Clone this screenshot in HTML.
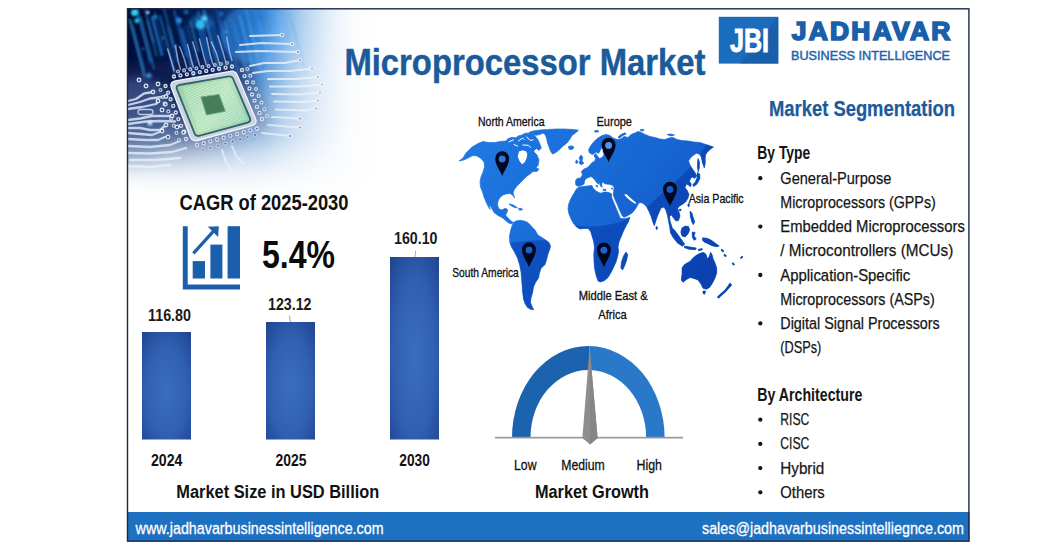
<!DOCTYPE html>
<html><head><meta charset="utf-8"><title>Microprocessor Market</title>
<style>html,body{margin:0;padding:0;background:#fff;}body{width:1064px;height:551px;overflow:hidden;font-family:'Liberation Sans', sans-serif;}svg{display:block}</style>
</head><body>
<svg width="1064" height="551" viewBox="0 0 1064 551" font-family="'Liberation Sans', sans-serif">
<defs>
<linearGradient id="mapg" gradientUnits="userSpaceOnUse" x1="470" y1="130" x2="720" y2="300">
  <stop offset="0" stop-color="#2079e2"/><stop offset="0.5" stop-color="#186ad6"/><stop offset="1" stop-color="#1560cf"/>
</linearGradient>
<linearGradient id="mapdk" gradientUnits="userSpaceOnUse" x1="560" y1="170" x2="720" y2="300">
  <stop offset="0" stop-color="#052c98" stop-opacity="0"/><stop offset="0.35" stop-color="#052c98" stop-opacity="0.06"/><stop offset="1" stop-color="#052c98" stop-opacity="0.4"/>
</linearGradient>
<clipPath id="mapclip"><path d="M459 161 L463 158 L466 153 L472 147 L478 143.5 L483 141.5 L489 142.5 L495 142.5 L500 141.5 L506 141 L508 138.5 L512 137.3 L516 137.8 L518 136 L522 135 L525 133.3 L529 133 L532 134.3 L535 136 L537.5 139 L539.5 143 L541.3 148 L539 150.5 L536.5 148.5 L534 150.5 L534 152 L537 155 L539 160 L538.2 165 L536 168 L539 169 L537 171.5 L533 171.5 L530 174 L527 176 L524 179 L520 183 L517 186 L514 190 L513 193 L514.5 197.8 L512.5 195 L510 193.5 L506 194 L503 195 L500 197.5 L498 201 L497.5 205 L499 209 L502 210 L505 208.3 L507.7 209.5 L507 212.5 L505.5 215 L508 218 L511 221 L513.5 222.5 L511 224 L508 222.5 L505 220 L502 217.5 L498 215.5 L494 212.5 L491.5 208 L489.5 204 L490 209.5 L488 206 L486 202 L484 197 L482.5 192 L480.5 187 L480 182 L481 177 L483 172 L484.5 167 L484 162 L481 158.5 L477 156 L473 155.5 L469 157.5 L465 159.5 L462 160.5 Z M529 132.3 L534 130.8 L540 130 L546 129.5 L544 132.5 L540 134.5 L536 135.3 L532 134.5 Z M541 131.2 L548 129.5 L556 129 L565 129 L573 129.5 L578.5 130.2 L576 132.5 L572 135.5 L570 139 L567 143 L563 146 L559 150 L555.5 152.7 L552.5 154 L550.5 151 L549 147 L547.5 143 L546.5 138 L545 134.5 Z M568.5 146.5 L572 145.8 L574.2 147.5 L572 149.6 L569 149.2 Z M509 204 L512 204.5 L515 206 L517.5 207.8 L514.5 207.5 L511.5 206 Z M518.5 208.5 L521.5 208.3 L522.5 209.8 L519.5 210.3 Z M513.5 222.5 L516 221 L519.5 220.3 L523 220.8 L527 222 L530 224.5 L532.5 227.5 L535 230 L537.5 234.5 L541 237 L545 239.5 L549 242.5 L550.5 246 L549.5 250 L548 254 L546.5 260 L545 264.5 L541 268.5 L539.5 273 L538.5 278 L535.5 282.5 L533.5 287 L532.5 293 L531 298 L530.5 302.5 L532 306.5 L533.8 309.8 L530.5 309.3 L527.5 307.5 L525 303.5 L523.5 299 L522.5 291 L521.8 281 L521 272 L519.8 265.5 L517.5 258 L514.5 252 L511.5 247 L509.7 242 L509.5 236 L510.5 231 L511.8 226.5 Z M574.5 192.5 L576 189.5 L578.5 187.3 L583 186.6 L588 185.9 L592 185.5 L593 188 L595.5 190.5 L598.5 192.5 L601 193.2 L604 192 L608 192.3 L611.5 193.7 L611.5 197 L613.5 202 L616 208 L618.5 214 L620.5 218.5 L625 218.7 L630 217.3 L628.5 221.5 L626 226 L623.5 231 L621 237 L619 242 L618 247 L618.5 252 L617.5 257 L616 262 L613.5 267.5 L611 272.5 L608 277.5 L604.5 280.5 L600.5 282 L598 281 L596 275 L594.5 268 L594 261 L593.8 254 L594.5 247 L593.5 241 L592 236 L590.5 231 L588 228.5 L584 228.5 L580 229 L576.5 227 L573.5 223.5 L571 219 L569 214 L568 209 L568.7 204 L570.5 199.5 L572.5 195.5 Z M626 252 L627.7 254.5 L626.7 260 L624.5 266 L622.5 270 L620.8 268 L621.5 262 L623.5 256 Z M575.8 185 L575.5 181 L577 178.5 L580.5 178 L582.5 175 L581.3 171.5 L584 169 L587.5 167.5 L590 165 L592 162.5 L594.5 161.5 L595.5 158.5 L594 155.5 L595.5 153.5 L597.5 156 L599.5 158.5 L602 157.5 L604 155 L603 151.5 L604.5 148 L607.5 146 L605.5 143.5 L602.5 146 L600.5 150 L598.5 153.5 L596 152 L592.5 154.5 L589.5 153 L588.5 150 L590.5 146 L594 141.5 L598 138 L602 135.5 L606 134.5 L610 135.5 L613 138 L617 139.5 L621 139 L624 136.5 L628 137.5 L631 134.5 L635 133 L638 131.5 L641 132.3 L645 134.5 L650 136.5 L655 137.5 L660 139 L665 139.5 L669 138 L673 137.5 L677 139.5 L682 140.5 L688 141 L694 142 L700 142.5 L706 144.5 L713.5 147 L710 149.5 L707 152.5 L705.5 155 L705.2 158.5 L705.3 163 L704.3 168 L702.5 163 L701.5 158 L700 154.5 L696.5 153.2 L693 155.5 L690 158.5 L688.5 161 L690 165 L692.5 169 L695 172.5 L696.5 176 L694.5 178.5 L692.5 177 L690.5 178.5 L689.5 181.5 L691.3 184 L690.5 187 L688.5 185 L686.5 184 L685 187.5 L687.5 191 L689 194.5 L688 198 L686 201.5 L683 204 L679.5 206 L677.5 208.5 L679 212 L680 216 L678.5 220.5 L676 221 L673.5 218 L671.5 215 L669.5 216.5 L670 221 L671.5 225.5 L673 230 L675 235 L677.5 239.5 L678.5 241.8 L676 240 L673.5 236 L671 231 L669.5 226 L668.5 221 L667.5 215.5 L666 210.5 L664 207 L661 208 L659.5 211.5 L657.5 216 L656 220.5 L654.3 225.8 L652.5 221 L651 216 L649 211.5 L647 207.5 L644 204 L641 202.5 L638.5 203 L637.5 205.5 L635 209.5 L632 213 L628 215.5 L624 217.3 L622.3 216 L620 211 L617.5 205 L615 199.5 L613.2 195 L613.6 191.5 L614.2 187.5 L612.5 185.2 L609 184.3 L606 184 L604 183.3 L602.7 181.8 L601.6 184 L602.2 187.2 L600.6 186.3 L599.6 183.2 L597.6 180.5 L596.2 178.2 L594.8 176.6 L596.6 179.3 L598.6 182.2 L598.8 184.3 L597.2 183.2 L595 180.2 L593 177.8 L591 176.6 L588.5 177.5 L586 178.6 L584.6 181 L584 184 L581.5 185.6 L578.5 186.3 L576.5 185.6 Z M595.8 185.3 L598 185.9 L597 187.3 Z M603 189.2 L606 189.4 L606 190.4 L603 190.3 Z M611 188.3 L612.8 188 L612.5 189.3 Z M579 158 L581 155 L582.8 157 L582 160.5 L583.8 163.5 L581 164.7 L579 163 L580.2 160.5 Z M576.3 160 L578 161.3 L577.2 163.6 L575.5 162.7 Z M618 137 L621 134.5 L625 132.8 L626.3 134 L622.5 135.7 L619.7 138.2 Z M594 131 L597.5 130.2 L599 131.5 L596 132.3 Z M640 129.8 L643.5 129.3 L644 130.6 L641 131 Z M667 134.5 L671 134 L674.5 135 L671 136 Z M698 158.5 L699.5 162 L699.3 168 L698.2 172 L697.4 167 L697.6 162 Z M697.5 172.5 L699.7 174 L700 178 L698.5 181.5 L696.5 184.5 L693.5 186.5 L692.8 184.8 L695.3 182 L697 178 L696.8 175 Z M688.3 203.5 L689.6 204.5 L688.8 207 L687.7 206 Z M679.5 209 L681.3 209.3 L680.5 211 L679.2 210.5 Z M656.3 226.3 L657.7 227.5 L657 229.7 L655.8 228.5 Z M690 211 L692 213 L693 217 L694.7 222 L693.2 224.7 L691.5 221 L690.3 216 Z M682 228 L685 226 L688.5 226.5 L689.7 230 L688 234 L685 237 L682 236 L680.8 232 Z M669.8 227.5 L673.5 229 L677.5 234 L681 239 L684.7 244 L682.5 246.3 L677.5 243 L673.5 238 L670.5 233 Z M684.5 246 L690 247 L696.3 248 L695.5 249.7 L689 249.2 L684.5 247.7 Z M692.3 232 L695.2 232.5 L694 236 L696.3 239 L694 240.3 L692.3 237 Z M698 249.5 L702 248.5 L702.5 249.8 L698.5 250.8 Z M702.8 237.8 L707 238.3 L711 240 L715 243 L719.3 246 L716.5 246.8 L712 245.7 L708 243.7 L704.5 242.2 L702.3 240 Z M682 268 L684.5 264.5 L688 262.5 L690.5 261 L693 258 L696 255.5 L698.5 254 L701.5 252.8 L704 252.5 L706 254.5 L707.5 259 L709.5 256 L710.5 252.3 L712 254.5 L713 258.5 L715 263 L716.7 268 L716.7 273 L715 278 L712.5 283 L709.5 287.5 L706.5 289.2 L703 288.2 L701 284 L698 280 L694 278.5 L690 277.5 L686.5 279.5 L683 282.3 L681.3 280 L682 274 Z M703 291 L705.7 291 L704.6 294.3 L703 293.5 Z M730 283 L731.7 285 L729 288 L726 291.5 L722 295 L718.5 298.3 L717.3 297 L721 293.5 L725 290 L728 286 Z M724.5 254 L726.3 255.5 L725.5 257 L724 255.5 Z M733 262.5 L734.5 264.3 L733.5 265.3 L732.3 263.7 Z M740.5 257.5 L742.3 256 L742.8 257.2 L741 258.7 Z M721.5 249 L724 251 L723 252 L721 250.3 Z"/></clipPath>
<linearGradient id="phbase" gradientUnits="userSpaceOnUse" x1="127" y1="0" x2="380" y2="0">
<stop offset="0" stop-color="#041440"/><stop offset="0.2" stop-color="#07265e"/><stop offset="0.36" stop-color="#0e4290"/>
<stop offset="0.5" stop-color="#2274c8"/><stop offset="0.62" stop-color="#4c96dc"/><stop offset="0.75" stop-color="#8cbce8"/><stop offset="0.88" stop-color="#cfe2f5"/><stop offset="1" stop-color="#ffffff"/>
</linearGradient>
<linearGradient id="phv" gradientUnits="userSpaceOnUse" x1="0" y1="80" x2="0" y2="196">
<stop offset="0" stop-color="#5a7ab0" stop-opacity="0"/><stop offset="0.2" stop-color="#5f7fb4" stop-opacity="0.18"/>
<stop offset="0.42" stop-color="#7f9cc8" stop-opacity="0.42"/><stop offset="0.62" stop-color="#b4c8e2" stop-opacity="0.72"/>
<stop offset="0.82" stop-color="#e4ecf6" stop-opacity="0.94"/><stop offset="1" stop-color="#ffffff" stop-opacity="1"/>
</linearGradient>
<radialGradient id="phdark" gradientUnits="userSpaceOnUse" cx="127" cy="9" r="150">
<stop offset="0" stop-color="#010a2c" stop-opacity="0.95"/><stop offset="0.45" stop-color="#021040" stop-opacity="0.6"/><stop offset="1" stop-color="#021040" stop-opacity="0"/>
</radialGradient>
<linearGradient id="phfadeR" gradientUnits="userSpaceOnUse" x1="262" y1="0" x2="375" y2="0">
<stop offset="0" stop-color="#fff" stop-opacity="0"/><stop offset="0.45" stop-color="#fff" stop-opacity="0.45"/><stop offset="0.8" stop-color="#fff" stop-opacity="0.88"/><stop offset="1" stop-color="#fff" stop-opacity="1"/>
</linearGradient>
<linearGradient id="phfadeB" gradientUnits="userSpaceOnUse" x1="0" y1="140" x2="0" y2="198">
<stop offset="0" stop-color="#fff" stop-opacity="0"/><stop offset="0.5" stop-color="#fff" stop-opacity="0.4"/><stop offset="1" stop-color="#fff" stop-opacity="1"/>
</linearGradient>
<linearGradient id="phfadeD" gradientUnits="userSpaceOnUse" x1="232" y1="50" x2="335" y2="150">
<stop offset="0" stop-color="#cfe0f4" stop-opacity="0"/><stop offset="0.3" stop-color="#cfe0f4" stop-opacity="0.3"/><stop offset="0.6" stop-color="#d6e5f6" stop-opacity="0.62"/><stop offset="1" stop-color="#e6f0fa" stop-opacity="0.9"/>
</linearGradient>
<linearGradient id="chipg" gradientUnits="userSpaceOnUse" x1="180" y1="85" x2="250" y2="130">
<stop offset="0" stop-color="#9ad2a8"/><stop offset="0.5" stop-color="#b6e2ba"/><stop offset="1" stop-color="#8ecfb2"/>
</linearGradient>
<pattern id="hatch" width="2.4" height="2.4" patternUnits="userSpaceOnUse" patternTransform="rotate(-28)"><rect width="2.4" height="1" fill="#e8fbe8" opacity="0.55"/></pattern>
<filter id="b0" x="-20%" y="-20%" width="140%" height="140%"><feGaussianBlur stdDeviation="0.45"/></filter>
<filter id="b05" x="-20%" y="-20%" width="140%" height="140%"><feGaussianBlur stdDeviation="0.7"/></filter>
<filter id="b1" x="-20%" y="-20%" width="140%" height="140%"><feGaussianBlur stdDeviation="0.9"/></filter>
<filter id="b2" x="-50%" y="-50%" width="200%" height="200%"><feGaussianBlur stdDeviation="1.6"/></filter>
<filter id="b3" x="-50%" y="-50%" width="200%" height="200%"><feGaussianBlur stdDeviation="5"/></filter>
<clipPath id="phclip"><rect x="127" y="8" width="253" height="196"/></clipPath>
<radialGradient id="barg" cx="50%" cy="55%" r="75%" fx="50%" fy="55%">
  <stop offset="0" stop-color="#3b6dbf"/><stop offset="0.55" stop-color="#3160b2"/><stop offset="1" stop-color="#1f438f"/>
</radialGradient>
</defs>
<rect width="1064" height="551" fill="#fff"/>
<!-- photo -->
<g clip-path="url(#phclip)">
<g filter="url(#b1)">
<rect x="125" y="6" width="260" height="205" fill="url(#phbase)"/>
<rect x="125" y="6" width="260" height="205" fill="url(#phdark)"/>
<path d="M120 66 L200 58 L246 56 L272 126 L200 158 L120 150 Z" fill="#0c1f54" opacity="0.62" filter="url(#b3)"/>
<path d="M129.9 19.4 L144.9 77.2" stroke="#48b0ff" stroke-opacity="0.58" stroke-width="1.8"/>
<path d="M132.7 25.3 L144.2 69.6" stroke="#1f78e0" stroke-opacity="0.66" stroke-width="1.0"/>
<path d="M136.6 8.2 L150.7 62.5" stroke="#2a8cf0" stroke-opacity="0.70" stroke-width="1.5"/>
<path d="M140.5 16.9 L154.1 69.0" stroke="#48b0ff" stroke-opacity="0.68" stroke-width="0.9"/>
<path d="M144.5 7.4 L153.8 43.1" stroke="#2a8cf0" stroke-opacity="0.47" stroke-width="1.7"/>
<path d="M147.5 20.2 L156.8 56.0" stroke="#3aa2f8" stroke-opacity="0.47" stroke-width="1.4"/>
<path d="M152.1 17.0 L162.1 55.3" stroke="#2a8cf0" stroke-opacity="0.85" stroke-width="1.6"/>
<path d="M154.6 11.5 L164.7 50.2" stroke="#2a8cf0" stroke-opacity="0.39" stroke-width="1.3"/>
<path d="M159.8 15.3 L175.1 74.0" stroke="#2a8cf0" stroke-opacity="0.77" stroke-width="1.1"/>
<path d="M163.7 7.3 L174.4 48.5" stroke="#2f94f0" stroke-opacity="0.70" stroke-width="1.0"/>
<path d="M166.4 24.7 L176.3 62.8" stroke="#3aa2f8" stroke-opacity="0.39" stroke-width="0.9"/>
<path d="M169.3 28.1 L178.2 62.2" stroke="#2a8cf0" stroke-opacity="0.70" stroke-width="1.0"/>
<path d="M174.1 10.3 L186.3 57.0" stroke="#1f78e0" stroke-opacity="0.57" stroke-width="1.9"/>
<path d="M177.6 16.1 L188.4 57.6" stroke="#1f78e0" stroke-opacity="0.55" stroke-width="0.9"/>
<path d="M181.5 29.4 L193.9 77.2" stroke="#2a8cf0" stroke-opacity="0.85" stroke-width="1.1"/>
<path d="M183.7 26.5 L196.5 75.8" stroke="#1f78e0" stroke-opacity="0.40" stroke-width="1.1"/>
<path d="M186.9 24.5 L197.2 64.4" stroke="#2a8cf0" stroke-opacity="0.50" stroke-width="1.0"/>
<path d="M190.3 21.3 L198.2 51.7" stroke="#48b0ff" stroke-opacity="0.53" stroke-width="1.4"/>
<path d="M196.2 17.6 L208.5 64.8" stroke="#1f78e0" stroke-opacity="0.78" stroke-width="1.5"/>
<path d="M197.8 11.5 L210.4 59.8" stroke="#1f78e0" stroke-opacity="0.71" stroke-width="1.6"/>
<path d="M203.3 10.7 L218.5 69.2" stroke="#48b0ff" stroke-opacity="0.79" stroke-width="1.0"/>
<path d="M204.2 8.6 L216.0 54.0" stroke="#2f94f0" stroke-opacity="0.48" stroke-width="1.2"/>
<path d="M210.2 20.3 L220.3 59.1" stroke="#2a8cf0" stroke-opacity="0.44" stroke-width="1.0"/>
<path d="M212.7 21.7 L225.3 70.2" stroke="#1f78e0" stroke-opacity="0.39" stroke-width="1.8"/>
<path d="M215.5 6.4 L225.4 44.5" stroke="#2a8cf0" stroke-opacity="0.57" stroke-width="0.9"/>
<path d="M219.3 18.7 L234.7 77.9" stroke="#1f78e0" stroke-opacity="0.40" stroke-width="1.8"/>
<path d="M225.0 21.8 L238.2 72.5" stroke="#1f78e0" stroke-opacity="0.64" stroke-width="1.5"/>
<path d="M228.5 17.4 L239.1 58.1" stroke="#2a8cf0" stroke-opacity="0.51" stroke-width="0.9"/>
<path d="M231.2 17.6 L244.7 69.5" stroke="#2a8cf0" stroke-opacity="0.51" stroke-width="1.0"/>
<path d="M234.5 23.7 L249.4 80.7" stroke="#1f78e0" stroke-opacity="0.72" stroke-width="1.7"/>
<path d="M239.2 14.4 L252.4 65.0" stroke="#2f94f0" stroke-opacity="0.80" stroke-width="1.8"/>
<path d="M240.2 18.0 L248.1 48.4" stroke="#2f94f0" stroke-opacity="0.68" stroke-width="1.5"/>
<path d="M245.5 7.9 L258.3 57.1" stroke="#2f94f0" stroke-opacity="0.85" stroke-width="1.6"/>
<path d="M248.5 23.6 L260.8 71.1" stroke="#48b0ff" stroke-opacity="0.57" stroke-width="1.0"/>
<path d="M253.2 6.7 L265.6 54.8" stroke="#1f78e0" stroke-opacity="0.59" stroke-width="1.9"/>
<path d="M254.8 24.7 L267.8 74.5" stroke="#2a8cf0" stroke-opacity="0.59" stroke-width="1.3"/>
<path d="M258.5 20.7 L270.4 66.2" stroke="#3aa2f8" stroke-opacity="0.73" stroke-width="1.6"/>
<path d="M263.0 27.4 L273.4 67.2" stroke="#1f78e0" stroke-opacity="0.68" stroke-width="1.5"/>
<path d="M267.7 24.1 L277.1 60.1" stroke="#1f78e0" stroke-opacity="0.46" stroke-width="1.5"/>
<path d="M269.8 9.3 L281.5 54.2" stroke="#2a8cf0" stroke-opacity="0.77" stroke-width="1.6"/>
<path d="M275.4 12.6 L284.5 47.7" stroke="#3aa2f8" stroke-opacity="0.58" stroke-width="1.8"/>
<path d="M278.6 15.2 L290.4 60.8" stroke="#48b0ff" stroke-opacity="0.69" stroke-width="1.4"/>
<path d="M279.9 6.8 L294.5 62.9" stroke="#3aa2f8" stroke-opacity="0.37" stroke-width="1.5"/>
<path d="M284.2 25.0 L292.2 55.6" stroke="#2f94f0" stroke-opacity="0.42" stroke-width="1.1"/>
<path d="M289.2 12.4 L303.1 65.8" stroke="#2a8cf0" stroke-opacity="0.75" stroke-width="1.3"/>
<path d="M292.4 21.7 L306.5 75.9" stroke="#1f78e0" stroke-opacity="0.83" stroke-width="1.1"/>
<ellipse cx="256" cy="34" rx="36" ry="30" fill="#3c96ee" opacity="0.4" filter="url(#b2)"/>
<ellipse cx="202" cy="22" rx="12" ry="8" fill="#2aa0f0" opacity="0.3" filter="url(#b2)"/>
</g>
<rect x="125" y="6" width="260" height="205" fill="url(#phv)"/>
<rect x="125" y="6" width="380" height="210" fill="url(#phfadeD)"/>
<ellipse cx="138" cy="118" rx="36" ry="42" fill="#5f80b6" opacity="0.42" filter="url(#b3)"/>
<g filter="url(#b05)">
<path d="M128.0 101.0 L136.0 99.0 L144.0 93.5 L153.0 92.0" fill="none" stroke="#dde8f6" stroke-opacity="0.85" stroke-width="2.3" stroke-linecap="round" stroke-linejoin="round"/>
<path d="M128.0 105.0 L140.0 102.0 L150.0 98.5 L166.0 96.5" fill="none" stroke="#dde8f6" stroke-opacity="0.85" stroke-width="2.3" stroke-linecap="round" stroke-linejoin="round"/>
<path d="M128.0 109.0 L142.0 107.0 L156.0 104.0 L158.0 101.0" fill="none" stroke="#dde8f6" stroke-opacity="0.85" stroke-width="2.3" stroke-linecap="round" stroke-linejoin="round"/>
<path d="M128.0 120.0 L140.0 118.5 L152.0 116.0 L172.0 116.0" fill="none" stroke="#dde8f6" stroke-opacity="0.85" stroke-width="2.3" stroke-linecap="round" stroke-linejoin="round"/>
<path d="M128.0 124.0 L146.0 121.5 L160.0 121.0 L175.0 121.5" fill="none" stroke="#dde8f6" stroke-opacity="0.85" stroke-width="2.3" stroke-linecap="round" stroke-linejoin="round"/>
<path d="M128.0 128.0 L140.0 128.0 L150.0 130.0 L160.0 130.0 L166.0 125.0" fill="none" stroke="#dde8f6" stroke-opacity="0.85" stroke-width="2.3" stroke-linecap="round" stroke-linejoin="round"/>
<path d="M128.0 133.0 L140.0 134.0 L152.0 135.0 L162.0 131.0" fill="none" stroke="#dde8f6" stroke-opacity="0.85" stroke-width="2.3" stroke-linecap="round" stroke-linejoin="round"/>
<path d="M128.0 139.0 L145.0 140.0 L158.0 140.0 L165.0 137.0" fill="none" stroke="#dde8f6" stroke-opacity="0.85" stroke-width="2.3" stroke-linecap="round" stroke-linejoin="round"/>
<path d="M128.0 146.0 L150.0 147.0 L170.0 145.0 L180.0 141.0" fill="none" stroke="#dde8f6" stroke-opacity="0.85" stroke-width="2.3" stroke-linecap="round" stroke-linejoin="round"/>
<path d="M128.0 153.0 L150.0 153.5 L172.0 152.0 L186.0 148.0" fill="none" stroke="#dde8f6" stroke-opacity="0.85" stroke-width="2.3" stroke-linecap="round" stroke-linejoin="round"/>
<path d="M130.0 160.0 L156.0 160.0 L180.0 158.0" fill="none" stroke="#dde8f6" stroke-opacity="0.85" stroke-width="2.3" stroke-linecap="round" stroke-linejoin="round"/>
<path d="M128.0 166.0 L150.0 167.0 L170.0 165.0" fill="none" stroke="#dde8f6" stroke-opacity="0.85" stroke-width="2.3" stroke-linecap="round" stroke-linejoin="round"/>
<rect x="138" y="109.5" width="15" height="5" rx="2.5" fill="none" stroke="#dde8f6" stroke-opacity="0.8" stroke-width="1.3"/>
<circle cx="153.0" cy="92.0" r="1.8" fill="#14306a" fill-opacity="0.7" stroke="#e8f0fa" stroke-opacity="0.9" stroke-width="1.35"/>
<circle cx="166.0" cy="96.5" r="1.8" fill="#14306a" fill-opacity="0.7" stroke="#e8f0fa" stroke-opacity="0.9" stroke-width="1.35"/>
<circle cx="158.0" cy="101.0" r="1.8" fill="#14306a" fill-opacity="0.7" stroke="#e8f0fa" stroke-opacity="0.9" stroke-width="1.35"/>
<circle cx="162.0" cy="110.0" r="1.8" fill="#14306a" fill-opacity="0.7" stroke="#e8f0fa" stroke-opacity="0.9" stroke-width="1.35"/>
<circle cx="165.0" cy="104.0" r="1.8" fill="#14306a" fill-opacity="0.7" stroke="#e8f0fa" stroke-opacity="0.9" stroke-width="1.35"/>
<circle cx="172.0" cy="116.0" r="1.8" fill="#14306a" fill-opacity="0.7" stroke="#e8f0fa" stroke-opacity="0.9" stroke-width="1.35"/>
<circle cx="177.0" cy="127.0" r="1.8" fill="#14306a" fill-opacity="0.7" stroke="#e8f0fa" stroke-opacity="0.9" stroke-width="1.35"/>
<circle cx="184.0" cy="132.0" r="1.8" fill="#14306a" fill-opacity="0.7" stroke="#e8f0fa" stroke-opacity="0.9" stroke-width="1.35"/>
<circle cx="166.0" cy="125.0" r="1.8" fill="#14306a" fill-opacity="0.7" stroke="#e8f0fa" stroke-opacity="0.9" stroke-width="1.35"/>
<circle cx="162.0" cy="131.0" r="1.8" fill="#14306a" fill-opacity="0.7" stroke="#e8f0fa" stroke-opacity="0.9" stroke-width="1.35"/>
<circle cx="168.0" cy="137.0" r="1.8" fill="#14306a" fill-opacity="0.7" stroke="#e8f0fa" stroke-opacity="0.9" stroke-width="1.35"/>
<circle cx="146.0" cy="86.0" r="1.8" fill="#14306a" fill-opacity="0.7" stroke="#e8f0fa" stroke-opacity="0.9" stroke-width="1.35"/>
<circle cx="139.0" cy="80.0" r="1.8" fill="#14306a" fill-opacity="0.7" stroke="#e8f0fa" stroke-opacity="0.9" stroke-width="1.35"/>
<circle cx="158.0" cy="84.0" r="1.8" fill="#14306a" fill-opacity="0.7" stroke="#e8f0fa" stroke-opacity="0.9" stroke-width="1.35"/>
<circle cx="174.0" cy="76.5" r="1.5" fill="#14306a" fill-opacity="0.7" stroke="#e8f0fa" stroke-opacity="0.9" stroke-width="1.35"/>
<circle cx="180.4" cy="75.4" r="1.5" fill="#14306a" fill-opacity="0.7" stroke="#e8f0fa" stroke-opacity="0.9" stroke-width="1.35"/>
<circle cx="186.9" cy="74.3" r="1.5" fill="#14306a" fill-opacity="0.7" stroke="#e8f0fa" stroke-opacity="0.9" stroke-width="1.35"/>
<circle cx="193.3" cy="73.2" r="1.5" fill="#14306a" fill-opacity="0.7" stroke="#e8f0fa" stroke-opacity="0.9" stroke-width="1.35"/>
<circle cx="199.8" cy="72.1" r="1.5" fill="#14306a" fill-opacity="0.7" stroke="#e8f0fa" stroke-opacity="0.9" stroke-width="1.35"/>
<circle cx="206.2" cy="70.9" r="1.5" fill="#14306a" fill-opacity="0.7" stroke="#e8f0fa" stroke-opacity="0.9" stroke-width="1.35"/>
<circle cx="212.7" cy="69.8" r="1.5" fill="#14306a" fill-opacity="0.7" stroke="#e8f0fa" stroke-opacity="0.9" stroke-width="1.35"/>
<circle cx="219.1" cy="68.7" r="1.5" fill="#14306a" fill-opacity="0.7" stroke="#e8f0fa" stroke-opacity="0.9" stroke-width="1.35"/>
<circle cx="225.6" cy="67.6" r="1.5" fill="#14306a" fill-opacity="0.7" stroke="#e8f0fa" stroke-opacity="0.9" stroke-width="1.35"/>
<circle cx="232.0" cy="66.5" r="1.5" fill="#14306a" fill-opacity="0.7" stroke="#e8f0fa" stroke-opacity="0.9" stroke-width="1.35"/>
<circle cx="178.0" cy="71.5" r="1.4" fill="#14306a" fill-opacity="0.7" stroke="#e8f0fa" stroke-opacity="0.75" stroke-width="1.35"/>
<circle cx="184.1" cy="70.4" r="1.4" fill="#14306a" fill-opacity="0.7" stroke="#e8f0fa" stroke-opacity="0.75" stroke-width="1.35"/>
<circle cx="190.2" cy="69.4" r="1.4" fill="#14306a" fill-opacity="0.7" stroke="#e8f0fa" stroke-opacity="0.75" stroke-width="1.35"/>
<circle cx="196.4" cy="68.3" r="1.4" fill="#14306a" fill-opacity="0.7" stroke="#e8f0fa" stroke-opacity="0.75" stroke-width="1.35"/>
<circle cx="202.5" cy="67.2" r="1.4" fill="#14306a" fill-opacity="0.7" stroke="#e8f0fa" stroke-opacity="0.75" stroke-width="1.35"/>
<circle cx="208.6" cy="66.2" r="1.4" fill="#14306a" fill-opacity="0.7" stroke="#e8f0fa" stroke-opacity="0.75" stroke-width="1.35"/>
<circle cx="214.8" cy="65.1" r="1.4" fill="#14306a" fill-opacity="0.7" stroke="#e8f0fa" stroke-opacity="0.75" stroke-width="1.35"/>
<circle cx="220.9" cy="64.1" r="1.4" fill="#14306a" fill-opacity="0.7" stroke="#e8f0fa" stroke-opacity="0.75" stroke-width="1.35"/>
<circle cx="227.0" cy="63.0" r="1.4" fill="#14306a" fill-opacity="0.7" stroke="#e8f0fa" stroke-opacity="0.75" stroke-width="1.35"/>
<circle cx="165.5" cy="86.0" r="1.5" fill="#14306a" fill-opacity="0.7" stroke="#e8f0fa" stroke-opacity="0.9" stroke-width="1.35"/>
<circle cx="168.1" cy="92.6" r="1.5" fill="#14306a" fill-opacity="0.7" stroke="#e8f0fa" stroke-opacity="0.9" stroke-width="1.35"/>
<circle cx="170.6" cy="99.2" r="1.5" fill="#14306a" fill-opacity="0.7" stroke="#e8f0fa" stroke-opacity="0.9" stroke-width="1.35"/>
<circle cx="173.2" cy="105.9" r="1.5" fill="#14306a" fill-opacity="0.7" stroke="#e8f0fa" stroke-opacity="0.9" stroke-width="1.35"/>
<circle cx="175.8" cy="112.5" r="1.5" fill="#14306a" fill-opacity="0.7" stroke="#e8f0fa" stroke-opacity="0.9" stroke-width="1.35"/>
<circle cx="178.3" cy="119.1" r="1.5" fill="#14306a" fill-opacity="0.7" stroke="#e8f0fa" stroke-opacity="0.9" stroke-width="1.35"/>
<circle cx="180.9" cy="125.8" r="1.5" fill="#14306a" fill-opacity="0.7" stroke="#e8f0fa" stroke-opacity="0.9" stroke-width="1.35"/>
<circle cx="183.4" cy="132.4" r="1.5" fill="#14306a" fill-opacity="0.7" stroke="#e8f0fa" stroke-opacity="0.9" stroke-width="1.35"/>
<circle cx="186.0" cy="139.0" r="1.5" fill="#14306a" fill-opacity="0.7" stroke="#e8f0fa" stroke-opacity="0.9" stroke-width="1.35"/>
<circle cx="160.5" cy="90.0" r="1.4" fill="#14306a" fill-opacity="0.7" stroke="#e8f0fa" stroke-opacity="0.75" stroke-width="1.35"/>
<circle cx="163.1" cy="97.1" r="1.4" fill="#14306a" fill-opacity="0.7" stroke="#e8f0fa" stroke-opacity="0.75" stroke-width="1.35"/>
<circle cx="165.8" cy="104.3" r="1.4" fill="#14306a" fill-opacity="0.7" stroke="#e8f0fa" stroke-opacity="0.75" stroke-width="1.35"/>
<circle cx="168.4" cy="111.4" r="1.4" fill="#14306a" fill-opacity="0.7" stroke="#e8f0fa" stroke-opacity="0.75" stroke-width="1.35"/>
<circle cx="171.1" cy="118.6" r="1.4" fill="#14306a" fill-opacity="0.7" stroke="#e8f0fa" stroke-opacity="0.75" stroke-width="1.35"/>
<circle cx="173.7" cy="125.7" r="1.4" fill="#14306a" fill-opacity="0.7" stroke="#e8f0fa" stroke-opacity="0.75" stroke-width="1.35"/>
<circle cx="176.4" cy="132.9" r="1.4" fill="#14306a" fill-opacity="0.7" stroke="#e8f0fa" stroke-opacity="0.75" stroke-width="1.35"/>
<circle cx="179.0" cy="140.0" r="1.4" fill="#14306a" fill-opacity="0.7" stroke="#e8f0fa" stroke-opacity="0.75" stroke-width="1.35"/>
<circle cx="197.0" cy="145.0" r="1.5" fill="#14306a" fill-opacity="0.7" stroke="#e8f0fa" stroke-opacity="0.8" stroke-width="1.35"/>
<circle cx="203.7" cy="143.2" r="1.5" fill="#14306a" fill-opacity="0.7" stroke="#e8f0fa" stroke-opacity="0.8" stroke-width="1.35"/>
<circle cx="210.3" cy="141.3" r="1.5" fill="#14306a" fill-opacity="0.7" stroke="#e8f0fa" stroke-opacity="0.8" stroke-width="1.35"/>
<circle cx="217.0" cy="139.5" r="1.5" fill="#14306a" fill-opacity="0.7" stroke="#e8f0fa" stroke-opacity="0.8" stroke-width="1.35"/>
<circle cx="223.7" cy="137.7" r="1.5" fill="#14306a" fill-opacity="0.7" stroke="#e8f0fa" stroke-opacity="0.8" stroke-width="1.35"/>
<circle cx="230.3" cy="135.8" r="1.5" fill="#14306a" fill-opacity="0.7" stroke="#e8f0fa" stroke-opacity="0.8" stroke-width="1.35"/>
<circle cx="237.0" cy="134.0" r="1.5" fill="#14306a" fill-opacity="0.7" stroke="#e8f0fa" stroke-opacity="0.8" stroke-width="1.35"/>
<circle cx="243.7" cy="132.2" r="1.5" fill="#14306a" fill-opacity="0.7" stroke="#e8f0fa" stroke-opacity="0.8" stroke-width="1.35"/>
<circle cx="250.3" cy="130.3" r="1.5" fill="#14306a" fill-opacity="0.7" stroke="#e8f0fa" stroke-opacity="0.8" stroke-width="1.35"/>
<circle cx="257.0" cy="128.5" r="1.5" fill="#14306a" fill-opacity="0.7" stroke="#e8f0fa" stroke-opacity="0.8" stroke-width="1.35"/>
<circle cx="203.0" cy="150.0" r="1.4" fill="#14306a" fill-opacity="0.7" stroke="#e8f0fa" stroke-opacity="0.55" stroke-width="1.35"/>
<circle cx="210.4" cy="147.9" r="1.4" fill="#14306a" fill-opacity="0.7" stroke="#e8f0fa" stroke-opacity="0.55" stroke-width="1.35"/>
<circle cx="217.9" cy="145.7" r="1.4" fill="#14306a" fill-opacity="0.7" stroke="#e8f0fa" stroke-opacity="0.55" stroke-width="1.35"/>
<circle cx="225.3" cy="143.6" r="1.4" fill="#14306a" fill-opacity="0.7" stroke="#e8f0fa" stroke-opacity="0.55" stroke-width="1.35"/>
<circle cx="232.7" cy="141.4" r="1.4" fill="#14306a" fill-opacity="0.7" stroke="#e8f0fa" stroke-opacity="0.55" stroke-width="1.35"/>
<circle cx="240.1" cy="139.3" r="1.4" fill="#14306a" fill-opacity="0.7" stroke="#e8f0fa" stroke-opacity="0.55" stroke-width="1.35"/>
<circle cx="247.6" cy="137.1" r="1.4" fill="#14306a" fill-opacity="0.7" stroke="#e8f0fa" stroke-opacity="0.55" stroke-width="1.35"/>
<circle cx="255.0" cy="135.0" r="1.4" fill="#14306a" fill-opacity="0.7" stroke="#e8f0fa" stroke-opacity="0.55" stroke-width="1.35"/>
<circle cx="242.0" cy="70.0" r="1.5" fill="#14306a" fill-opacity="0.7" stroke="#e8f0fa" stroke-opacity="0.9" stroke-width="1.35"/>
<circle cx="244.5" cy="76.1" r="1.5" fill="#14306a" fill-opacity="0.7" stroke="#e8f0fa" stroke-opacity="0.9" stroke-width="1.35"/>
<circle cx="247.0" cy="82.2" r="1.5" fill="#14306a" fill-opacity="0.7" stroke="#e8f0fa" stroke-opacity="0.9" stroke-width="1.35"/>
<circle cx="249.5" cy="88.4" r="1.5" fill="#14306a" fill-opacity="0.7" stroke="#e8f0fa" stroke-opacity="0.9" stroke-width="1.35"/>
<circle cx="252.0" cy="94.5" r="1.5" fill="#14306a" fill-opacity="0.7" stroke="#e8f0fa" stroke-opacity="0.9" stroke-width="1.35"/>
<circle cx="254.5" cy="100.6" r="1.5" fill="#14306a" fill-opacity="0.7" stroke="#e8f0fa" stroke-opacity="0.9" stroke-width="1.35"/>
<circle cx="257.0" cy="106.8" r="1.5" fill="#14306a" fill-opacity="0.7" stroke="#e8f0fa" stroke-opacity="0.9" stroke-width="1.35"/>
<circle cx="259.5" cy="112.9" r="1.5" fill="#14306a" fill-opacity="0.7" stroke="#e8f0fa" stroke-opacity="0.9" stroke-width="1.35"/>
<circle cx="262.0" cy="119.0" r="1.5" fill="#14306a" fill-opacity="0.7" stroke="#e8f0fa" stroke-opacity="0.9" stroke-width="1.35"/>
<circle cx="247.5" cy="69.0" r="1.4" fill="#14306a" fill-opacity="0.7" stroke="#e8f0fa" stroke-opacity="0.8" stroke-width="1.35"/>
<circle cx="250.3" cy="75.7" r="1.4" fill="#14306a" fill-opacity="0.7" stroke="#e8f0fa" stroke-opacity="0.8" stroke-width="1.35"/>
<circle cx="253.1" cy="82.4" r="1.4" fill="#14306a" fill-opacity="0.7" stroke="#e8f0fa" stroke-opacity="0.8" stroke-width="1.35"/>
<circle cx="255.9" cy="89.1" r="1.4" fill="#14306a" fill-opacity="0.7" stroke="#e8f0fa" stroke-opacity="0.8" stroke-width="1.35"/>
<circle cx="258.6" cy="95.9" r="1.4" fill="#14306a" fill-opacity="0.7" stroke="#e8f0fa" stroke-opacity="0.8" stroke-width="1.35"/>
<circle cx="261.4" cy="102.6" r="1.4" fill="#14306a" fill-opacity="0.7" stroke="#e8f0fa" stroke-opacity="0.8" stroke-width="1.35"/>
<circle cx="264.2" cy="109.3" r="1.4" fill="#14306a" fill-opacity="0.7" stroke="#e8f0fa" stroke-opacity="0.8" stroke-width="1.35"/>
<circle cx="267.0" cy="116.0" r="1.4" fill="#14306a" fill-opacity="0.7" stroke="#e8f0fa" stroke-opacity="0.8" stroke-width="1.35"/>
<path d="M174.0 70.5 L171.5 61.5 L167.6 49.1" fill="none" stroke="#dde8f6" stroke-opacity="0.6" stroke-width="1.5" stroke-linecap="round" stroke-linejoin="round"/>
<path d="M180.4 69.4 L177.9 60.4 L175.4 45.6" fill="none" stroke="#dde8f6" stroke-opacity="0.6" stroke-width="1.5" stroke-linecap="round" stroke-linejoin="round"/>
<path d="M186.9 68.3 L184.4 59.3 L179.7 46.8" fill="none" stroke="#dde8f6" stroke-opacity="0.6" stroke-width="1.5" stroke-linecap="round" stroke-linejoin="round"/>
<path d="M193.3 67.2 L190.8 58.2 L187.5 44.4" fill="none" stroke="#dde8f6" stroke-opacity="0.6" stroke-width="1.5" stroke-linecap="round" stroke-linejoin="round"/>
<path d="M199.8 66.1 L197.3 57.1 L192.7 41.9" fill="none" stroke="#dde8f6" stroke-opacity="0.6" stroke-width="1.5" stroke-linecap="round" stroke-linejoin="round"/>
<path d="M206.2 64.9 L203.7 55.9 L199.4 38.9" fill="none" stroke="#dde8f6" stroke-opacity="0.6" stroke-width="1.5" stroke-linecap="round" stroke-linejoin="round"/>
<path d="M212.7 63.8 L210.2 54.8 L206.5 37.5" fill="none" stroke="#dde8f6" stroke-opacity="0.6" stroke-width="1.5" stroke-linecap="round" stroke-linejoin="round"/>
<path d="M219.1 62.7 L216.6 53.7 L211.4 42.0" fill="none" stroke="#dde8f6" stroke-opacity="0.6" stroke-width="1.5" stroke-linecap="round" stroke-linejoin="round"/>
<path d="M225.6 61.6 L223.1 52.6 L217.8 35.8" fill="none" stroke="#dde8f6" stroke-opacity="0.6" stroke-width="1.5" stroke-linecap="round" stroke-linejoin="round"/>
<path d="M232.0 60.5 L229.5 51.5 L226.6 36.9" fill="none" stroke="#dde8f6" stroke-opacity="0.6" stroke-width="1.5" stroke-linecap="round" stroke-linejoin="round"/>
<path d="M250.0 66.0 L264.0 63.0 L285.0 63.0 L300.0 60.0" fill="none" stroke="#dde8f6" stroke-opacity="0.9" stroke-width="2.0" stroke-linecap="round" stroke-linejoin="round"/>
<path d="M253.0 73.0 L268.0 71.0 L290.0 71.0 L312.0 68.5" fill="none" stroke="#dde8f6" stroke-opacity="0.9" stroke-width="2.0" stroke-linecap="round" stroke-linejoin="round"/>
<path d="M268.0 79.0 L296.0 79.0 L318.0 77.0" fill="none" stroke="#dde8f6" stroke-opacity="0.9" stroke-width="2.0" stroke-linecap="round" stroke-linejoin="round"/>
<path d="M270.0 86.5 L300.0 86.5 L322.0 84.5" fill="none" stroke="#dde8f6" stroke-opacity="0.9" stroke-width="2.0" stroke-linecap="round" stroke-linejoin="round"/>
<path d="M272.0 94.0 L300.0 94.5 L320.0 92.5" fill="none" stroke="#dde8f6" stroke-opacity="0.9" stroke-width="2.0" stroke-linecap="round" stroke-linejoin="round"/>
<path d="M274.0 101.5 L305.0 102.0 L318.0 100.5" fill="none" stroke="#dde8f6" stroke-opacity="0.9" stroke-width="2.0" stroke-linecap="round" stroke-linejoin="round"/>
<path d="M276.0 109.5 L306.0 110.5 L316.0 108.5" fill="none" stroke="#dde8f6" stroke-opacity="0.9" stroke-width="2.0" stroke-linecap="round" stroke-linejoin="round"/>
<path d="M272.0 117.0 L300.0 118.5" fill="none" stroke="#dde8f6" stroke-opacity="0.9" stroke-width="2.0" stroke-linecap="round" stroke-linejoin="round"/>
<path d="M268.0 125.0 L300.0 127.5" fill="none" stroke="#dde8f6" stroke-opacity="0.9" stroke-width="2.0" stroke-linecap="round" stroke-linejoin="round"/>
<path d="M240.0 45.0 L262.0 43.0 L292.0 44.0" fill="none" stroke="#dde8f6" stroke-opacity="0.9" stroke-width="2.0" stroke-linecap="round" stroke-linejoin="round"/>
<path d="M236.0 52.0 L260.0 51.0 L298.0 52.0" fill="none" stroke="#dde8f6" stroke-opacity="0.9" stroke-width="2.0" stroke-linecap="round" stroke-linejoin="round"/>
<path d="M250.0 36.0 L282.0 35.0" fill="none" stroke="#dde8f6" stroke-opacity="0.9" stroke-width="2.0" stroke-linecap="round" stroke-linejoin="round"/>
<path d="M232.0 146.0 L236.0 156.0 L244.0 164.0" fill="none" stroke="#dde8f6" stroke-opacity="0.9" stroke-width="2.0" stroke-linecap="round" stroke-linejoin="round"/>
<path d="M222.0 150.0 L226.0 162.0 L232.0 171.0" fill="none" stroke="#dde8f6" stroke-opacity="0.9" stroke-width="2.0" stroke-linecap="round" stroke-linejoin="round"/>
<path d="M262.0 133.0 L290.0 136.0" fill="none" stroke="#dde8f6" stroke-opacity="0.9" stroke-width="2.0" stroke-linecap="round" stroke-linejoin="round"/>
<circle cx="300.0" cy="60.0" r="1.6" fill="#14306a" fill-opacity="0.7" stroke="#e8f0fa" stroke-opacity="0.8" stroke-width="1.35"/>
<circle cx="312.0" cy="68.5" r="1.6" fill="#14306a" fill-opacity="0.7" stroke="#e8f0fa" stroke-opacity="0.8" stroke-width="1.35"/>
<circle cx="318.0" cy="77.0" r="1.6" fill="#14306a" fill-opacity="0.7" stroke="#e8f0fa" stroke-opacity="0.8" stroke-width="1.35"/>
<circle cx="322.0" cy="84.5" r="1.6" fill="#14306a" fill-opacity="0.7" stroke="#e8f0fa" stroke-opacity="0.8" stroke-width="1.35"/>
<circle cx="320.0" cy="92.5" r="1.6" fill="#14306a" fill-opacity="0.7" stroke="#e8f0fa" stroke-opacity="0.8" stroke-width="1.35"/>
<circle cx="318.0" cy="100.5" r="1.6" fill="#14306a" fill-opacity="0.7" stroke="#e8f0fa" stroke-opacity="0.8" stroke-width="1.35"/>
<circle cx="316.0" cy="108.5" r="1.6" fill="#14306a" fill-opacity="0.7" stroke="#e8f0fa" stroke-opacity="0.8" stroke-width="1.35"/>
<circle cx="300.0" cy="118.5" r="1.6" fill="#14306a" fill-opacity="0.7" stroke="#e8f0fa" stroke-opacity="0.8" stroke-width="1.35"/>
<circle cx="300.0" cy="127.5" r="1.6" fill="#14306a" fill-opacity="0.7" stroke="#e8f0fa" stroke-opacity="0.8" stroke-width="1.35"/>
<circle cx="292.0" cy="44.0" r="1.6" fill="#14306a" fill-opacity="0.7" stroke="#e8f0fa" stroke-opacity="0.8" stroke-width="1.35"/>
<circle cx="298.0" cy="52.0" r="1.6" fill="#14306a" fill-opacity="0.7" stroke="#e8f0fa" stroke-opacity="0.8" stroke-width="1.35"/>
<circle cx="282.0" cy="35.0" r="1.6" fill="#14306a" fill-opacity="0.7" stroke="#e8f0fa" stroke-opacity="0.8" stroke-width="1.35"/>
<circle cx="290.0" cy="136.0" r="1.6" fill="#14306a" fill-opacity="0.7" stroke="#e8f0fa" stroke-opacity="0.8" stroke-width="1.35"/>
</g>
<circle cx="134.6" cy="12.5" r="3.6" fill="#35d4f4" opacity="0.95" filter="url(#b1)"/>
<circle cx="137" cy="20.6" r="2.6" fill="#2fc6ee" opacity="0.9" filter="url(#b1)"/>
<circle cx="147.8" cy="12.5" r="1.8" fill="#bfeeff" opacity="0.95" filter="url(#b1)"/>
<circle cx="155" cy="17" r="2.5" fill="#1f8fe0" opacity="0.7" filter="url(#b1)"/>
<circle cx="179" cy="20.6" r="3" fill="#2aa0ea" opacity="0.8" filter="url(#b1)"/>
<circle cx="200.4" cy="24.5" r="4.6" fill="#38c4f2" opacity="0.9" filter="url(#b1)"/>
<circle cx="204.2" cy="18.5" r="3" fill="#5fd6f8" opacity="0.85" filter="url(#b1)"/>
<circle cx="186" cy="12" r="2.5" fill="#2288e0" opacity="0.6" filter="url(#b1)"/>
<circle cx="221" cy="14" r="2.5" fill="#2b8ae0" opacity="0.55" filter="url(#b1)"/>
<circle cx="150" cy="123" r="2.4" fill="#d8f2ff" opacity="0.95" filter="url(#b1)"/>
<circle cx="149" cy="75.5" r="2.6" fill="#39b4f0" opacity="0.75" filter="url(#b1)"/>
<circle cx="163" cy="38" r="1.5" fill="#3aa0f0" opacity="0.6" filter="url(#b1)"/>
<circle cx="176" cy="46" r="1.5" fill="#3aa0f0" opacity="0.6" filter="url(#b1)"/>
<circle cx="143" cy="49" r="1.5" fill="#3aa0f0" opacity="0.5" filter="url(#b1)"/>
<circle cx="226" cy="32" r="1.8" fill="#5ab4f4" opacity="0.55" filter="url(#b1)"/>
<g filter="url(#b0)">
<path d="M175.4 80.8 L230.5 71.3 Q235.6 70.6 237.4 75.3 L255.6 119 Q257.5 123.8 252.5 125.4 L197.1 140.5 Q192.1 141.6 190.3 137 L171.2 87.2 Q169.8 81.9 175.4 80.8 Z" fill="#c9d4e0" stroke="#f2f6fa" stroke-width="1.3"/>
<path d="M179.2 85 L228.6 76.4 Q232 76 233.2 79 L250 118.4 Q251 121.6 247.8 122.6 L199 135.8 Q195.8 136.5 194.6 133.5 L176.8 88.8 Q176 85.7 179.2 85 Z" fill="url(#chipg)" stroke="#34626f" stroke-width="1.9"/>
<path d="M182 87.6 L227.6 79.6 L246.6 119.6 L199.5 132.4 Z" fill="url(#hatch)"/>
<path d="M200.9 97 L219 94.4 L225.3 111.3 L206.5 115 Z" fill="#457e58" stroke="#6aa882" stroke-width="0.9"/>
</g>
<rect x="125" y="6" width="380" height="210" fill="url(#phfadeR)"/>
<rect x="125" y="6" width="380" height="210" fill="url(#phfadeB)"/>
</g>
<!-- footer -->
<rect x="127" y="512" width="842.6" height="29.6" fill="#1e70c1"/>
<!-- frame -->
<rect x="127.5" y="8.8" width="841.4" height="532.3" fill="none" stroke="#1c2a4a" stroke-width="1.4"/>
<!-- bars -->
<rect x="142" y="332" width="49" height="107.5" fill="url(#barg)"/>
<rect x="266" y="322" width="49" height="117.5" fill="url(#barg)"/>
<rect x="390" y="257" width="49" height="182.5" fill="url(#barg)"/>
<path d="M289.3 315.5 L290.5 322 M415.8 250.8 L414.8 257" stroke="#a8a8a8" stroke-width="1" fill="none"/>
<!-- cagr icon -->
<g fill="#1b5eab">
<path d="M182.8 226.2 H187.7 V284.5 H240 V289.4 H182.8 Z"/>
<rect x="192.7" y="261.1" width="12.3" height="17.4"/>
<rect x="210.4" y="244.6" width="12" height="33.9"/>
<rect x="227.6" y="226.2" width="12.4" height="52.3"/>
<path d="M193.4 253.4 L214 230.6" stroke="#1b5eab" stroke-width="3.1" fill="none"/>
<path d="M207.8 226.8 L218.8 226.2 L218.1 237.1 Z"/>
</g>

<!-- logo -->
<rect x="718.8" y="16.8" width="59.5" height="46.8" fill="#1c6cbd"/>
<path d="M778.3 16.8 V63.6 H740 Z" fill="#185ca6" opacity="0.75"/>

<!-- map -->
<g>
<path d="M459 161 L463 158 L466 153 L472 147 L478 143.5 L483 141.5 L489 142.5 L495 142.5 L500 141.5 L506 141 L508 138.5 L512 137.3 L516 137.8 L518 136 L522 135 L525 133.3 L529 133 L532 134.3 L535 136 L537.5 139 L539.5 143 L541.3 148 L539 150.5 L536.5 148.5 L534 150.5 L534 152 L537 155 L539 160 L538.2 165 L536 168 L539 169 L537 171.5 L533 171.5 L530 174 L527 176 L524 179 L520 183 L517 186 L514 190 L513 193 L514.5 197.8 L512.5 195 L510 193.5 L506 194 L503 195 L500 197.5 L498 201 L497.5 205 L499 209 L502 210 L505 208.3 L507.7 209.5 L507 212.5 L505.5 215 L508 218 L511 221 L513.5 222.5 L511 224 L508 222.5 L505 220 L502 217.5 L498 215.5 L494 212.5 L491.5 208 L489.5 204 L490 209.5 L488 206 L486 202 L484 197 L482.5 192 L480.5 187 L480 182 L481 177 L483 172 L484.5 167 L484 162 L481 158.5 L477 156 L473 155.5 L469 157.5 L465 159.5 L462 160.5 Z M529 132.3 L534 130.8 L540 130 L546 129.5 L544 132.5 L540 134.5 L536 135.3 L532 134.5 Z M541 131.2 L548 129.5 L556 129 L565 129 L573 129.5 L578.5 130.2 L576 132.5 L572 135.5 L570 139 L567 143 L563 146 L559 150 L555.5 152.7 L552.5 154 L550.5 151 L549 147 L547.5 143 L546.5 138 L545 134.5 Z M568.5 146.5 L572 145.8 L574.2 147.5 L572 149.6 L569 149.2 Z M509 204 L512 204.5 L515 206 L517.5 207.8 L514.5 207.5 L511.5 206 Z M518.5 208.5 L521.5 208.3 L522.5 209.8 L519.5 210.3 Z M513.5 222.5 L516 221 L519.5 220.3 L523 220.8 L527 222 L530 224.5 L532.5 227.5 L535 230 L537.5 234.5 L541 237 L545 239.5 L549 242.5 L550.5 246 L549.5 250 L548 254 L546.5 260 L545 264.5 L541 268.5 L539.5 273 L538.5 278 L535.5 282.5 L533.5 287 L532.5 293 L531 298 L530.5 302.5 L532 306.5 L533.8 309.8 L530.5 309.3 L527.5 307.5 L525 303.5 L523.5 299 L522.5 291 L521.8 281 L521 272 L519.8 265.5 L517.5 258 L514.5 252 L511.5 247 L509.7 242 L509.5 236 L510.5 231 L511.8 226.5 Z M574.5 192.5 L576 189.5 L578.5 187.3 L583 186.6 L588 185.9 L592 185.5 L593 188 L595.5 190.5 L598.5 192.5 L601 193.2 L604 192 L608 192.3 L611.5 193.7 L611.5 197 L613.5 202 L616 208 L618.5 214 L620.5 218.5 L625 218.7 L630 217.3 L628.5 221.5 L626 226 L623.5 231 L621 237 L619 242 L618 247 L618.5 252 L617.5 257 L616 262 L613.5 267.5 L611 272.5 L608 277.5 L604.5 280.5 L600.5 282 L598 281 L596 275 L594.5 268 L594 261 L593.8 254 L594.5 247 L593.5 241 L592 236 L590.5 231 L588 228.5 L584 228.5 L580 229 L576.5 227 L573.5 223.5 L571 219 L569 214 L568 209 L568.7 204 L570.5 199.5 L572.5 195.5 Z M626 252 L627.7 254.5 L626.7 260 L624.5 266 L622.5 270 L620.8 268 L621.5 262 L623.5 256 Z M575.8 185 L575.5 181 L577 178.5 L580.5 178 L582.5 175 L581.3 171.5 L584 169 L587.5 167.5 L590 165 L592 162.5 L594.5 161.5 L595.5 158.5 L594 155.5 L595.5 153.5 L597.5 156 L599.5 158.5 L602 157.5 L604 155 L603 151.5 L604.5 148 L607.5 146 L605.5 143.5 L602.5 146 L600.5 150 L598.5 153.5 L596 152 L592.5 154.5 L589.5 153 L588.5 150 L590.5 146 L594 141.5 L598 138 L602 135.5 L606 134.5 L610 135.5 L613 138 L617 139.5 L621 139 L624 136.5 L628 137.5 L631 134.5 L635 133 L638 131.5 L641 132.3 L645 134.5 L650 136.5 L655 137.5 L660 139 L665 139.5 L669 138 L673 137.5 L677 139.5 L682 140.5 L688 141 L694 142 L700 142.5 L706 144.5 L713.5 147 L710 149.5 L707 152.5 L705.5 155 L705.2 158.5 L705.3 163 L704.3 168 L702.5 163 L701.5 158 L700 154.5 L696.5 153.2 L693 155.5 L690 158.5 L688.5 161 L690 165 L692.5 169 L695 172.5 L696.5 176 L694.5 178.5 L692.5 177 L690.5 178.5 L689.5 181.5 L691.3 184 L690.5 187 L688.5 185 L686.5 184 L685 187.5 L687.5 191 L689 194.5 L688 198 L686 201.5 L683 204 L679.5 206 L677.5 208.5 L679 212 L680 216 L678.5 220.5 L676 221 L673.5 218 L671.5 215 L669.5 216.5 L670 221 L671.5 225.5 L673 230 L675 235 L677.5 239.5 L678.5 241.8 L676 240 L673.5 236 L671 231 L669.5 226 L668.5 221 L667.5 215.5 L666 210.5 L664 207 L661 208 L659.5 211.5 L657.5 216 L656 220.5 L654.3 225.8 L652.5 221 L651 216 L649 211.5 L647 207.5 L644 204 L641 202.5 L638.5 203 L637.5 205.5 L635 209.5 L632 213 L628 215.5 L624 217.3 L622.3 216 L620 211 L617.5 205 L615 199.5 L613.2 195 L613.6 191.5 L614.2 187.5 L612.5 185.2 L609 184.3 L606 184 L604 183.3 L602.7 181.8 L601.6 184 L602.2 187.2 L600.6 186.3 L599.6 183.2 L597.6 180.5 L596.2 178.2 L594.8 176.6 L596.6 179.3 L598.6 182.2 L598.8 184.3 L597.2 183.2 L595 180.2 L593 177.8 L591 176.6 L588.5 177.5 L586 178.6 L584.6 181 L584 184 L581.5 185.6 L578.5 186.3 L576.5 185.6 Z M595.8 185.3 L598 185.9 L597 187.3 Z M603 189.2 L606 189.4 L606 190.4 L603 190.3 Z M611 188.3 L612.8 188 L612.5 189.3 Z M579 158 L581 155 L582.8 157 L582 160.5 L583.8 163.5 L581 164.7 L579 163 L580.2 160.5 Z M576.3 160 L578 161.3 L577.2 163.6 L575.5 162.7 Z M618 137 L621 134.5 L625 132.8 L626.3 134 L622.5 135.7 L619.7 138.2 Z M594 131 L597.5 130.2 L599 131.5 L596 132.3 Z M640 129.8 L643.5 129.3 L644 130.6 L641 131 Z M667 134.5 L671 134 L674.5 135 L671 136 Z M698 158.5 L699.5 162 L699.3 168 L698.2 172 L697.4 167 L697.6 162 Z M697.5 172.5 L699.7 174 L700 178 L698.5 181.5 L696.5 184.5 L693.5 186.5 L692.8 184.8 L695.3 182 L697 178 L696.8 175 Z M688.3 203.5 L689.6 204.5 L688.8 207 L687.7 206 Z M679.5 209 L681.3 209.3 L680.5 211 L679.2 210.5 Z M656.3 226.3 L657.7 227.5 L657 229.7 L655.8 228.5 Z M690 211 L692 213 L693 217 L694.7 222 L693.2 224.7 L691.5 221 L690.3 216 Z M682 228 L685 226 L688.5 226.5 L689.7 230 L688 234 L685 237 L682 236 L680.8 232 Z M669.8 227.5 L673.5 229 L677.5 234 L681 239 L684.7 244 L682.5 246.3 L677.5 243 L673.5 238 L670.5 233 Z M684.5 246 L690 247 L696.3 248 L695.5 249.7 L689 249.2 L684.5 247.7 Z M692.3 232 L695.2 232.5 L694 236 L696.3 239 L694 240.3 L692.3 237 Z M698 249.5 L702 248.5 L702.5 249.8 L698.5 250.8 Z M702.8 237.8 L707 238.3 L711 240 L715 243 L719.3 246 L716.5 246.8 L712 245.7 L708 243.7 L704.5 242.2 L702.3 240 Z M682 268 L684.5 264.5 L688 262.5 L690.5 261 L693 258 L696 255.5 L698.5 254 L701.5 252.8 L704 252.5 L706 254.5 L707.5 259 L709.5 256 L710.5 252.3 L712 254.5 L713 258.5 L715 263 L716.7 268 L716.7 273 L715 278 L712.5 283 L709.5 287.5 L706.5 289.2 L703 288.2 L701 284 L698 280 L694 278.5 L690 277.5 L686.5 279.5 L683 282.3 L681.3 280 L682 274 Z M703 291 L705.7 291 L704.6 294.3 L703 293.5 Z M730 283 L731.7 285 L729 288 L726 291.5 L722 295 L718.5 298.3 L717.3 297 L721 293.5 L725 290 L728 286 Z M724.5 254 L726.3 255.5 L725.5 257 L724 255.5 Z M733 262.5 L734.5 264.3 L733.5 265.3 L732.3 263.7 Z M740.5 257.5 L742.3 256 L742.8 257.2 L741 258.7 Z M721.5 249 L724 251 L723 252 L721 250.3 Z" fill="url(#mapg)" stroke="url(#mapg)" stroke-width="0.7" stroke-linejoin="round"/>
<g clip-path="url(#mapclip)">
<path d="M500 244 L509.8 242.8 L529.4 240.8 L549 240 L560 239.5 L562 223.8 L570.3 224.5 C582 227.5 596 227 606.2 225.3 C616 223.5 622 221.8 627.5 219.6 C640 214 652 203 662 193.5 C672 184 680 178 687 171 C694 163 699 156 702.5 150.5 L712 136 L770 136 L770 330 L500 330 Z" fill="#0534a4" opacity="0.47"/>
<rect x="450" y="120" width="320" height="210" fill="url(#mapdk)"/>
</g>
<path d="M624.5 194 L626.5 194.3 L630 197.5 L633.5 200.5 L636.5 203 L635 203.8 L631 201.2 L627.5 198.2 L625 195.8 Z M519 151.5 L517.7 156.5 L519.5 161 L522 164.3 L524.5 162.5 L526.5 158.5 L527.3 154 L526 151.3 L522.5 150.3 Z" fill="#fff"/>
<path d="M509 141.8 L513.5 139.8 M518.5 141 L522.5 138 L524 139.5 M526.5 137 L530.5 140.5 L533 139.8 M523 145 L528.5 145.3 L530.5 147.5 M514 144.5 L517.5 146" stroke="#fff" stroke-width="1" fill="none" stroke-linecap="round"/>
<path transform="translate(502.2 175.9)" d="M0 0 C-1.7 -5 -6.95 -11 -6.95 -17.7 A6.95 6.95 0 0 1 6.95 -17.7 C6.95 -11 1.7 -5 0 0 Z" fill="#03061f"/><circle cx="502.2" cy="159.0" r="3.45" fill="#2a7ade"/><path transform="translate(608.6 162.3)" d="M0 0 C-1.7 -5 -6.95 -11 -6.95 -17.7 A6.95 6.95 0 0 1 6.95 -17.7 C6.95 -11 1.7 -5 0 0 Z" fill="#03061f"/><circle cx="608.6" cy="145.4" r="3.45" fill="#4a98ec"/><path transform="translate(670 206.3)" d="M0 0 C-1.7 -5 -6.95 -11 -6.95 -17.7 A6.95 6.95 0 0 1 6.95 -17.7 C6.95 -11 1.7 -5 0 0 Z" fill="#03061f"/><circle cx="670" cy="189.4" r="3.45" fill="#1a5cc6"/><path transform="translate(529 267)" d="M0 0 C-1.7 -5 -6.95 -11 -6.95 -17.7 A6.95 6.95 0 0 1 6.95 -17.7 C6.95 -11 1.7 -5 0 0 Z" fill="#03061f"/><circle cx="529" cy="250.1" r="3.45" fill="#1a62cc"/><path transform="translate(603.9 267.2)" d="M0 0 C-1.7 -5 -6.95 -11 -6.95 -17.7 A6.95 6.95 0 0 1 6.95 -17.7 C6.95 -11 1.7 -5 0 0 Z" fill="#03061f"/><circle cx="603.9" cy="250.29999999999998" r="3.45" fill="#1a62cc"/>
</g>
<!-- gauge -->
<path d="M512 437.6 A76.3 91.6 0 0 1 588.3 346 L589.5 346 L589.5 370 L588.3 370 A57.8 67.6 0 0 0 530.5 437.6 Z" fill="#1b63ae"/>
<path d="M664.6 437.6 A76.3 91.6 0 0 0 589.5 346.02 L589.5 370.02 A57.8 67.6 0 0 1 646.1 437.6 Z" fill="#2a79c9"/>
<rect x="495" y="436.8" width="188" height="1.7" fill="#9a9a9a"/>
<path d="M589.6 347 L597.6 438 L590 444.6 L582.4 438 Z" fill="#8e8e8e"/>
<path d="M589.6 347 L597.6 438 L590 444.6 Z" fill="#868686"/>

<!-- text -->
<text x="344.4" y="75.4" font-size="36" font-weight="bold" fill="#1b5a9b" text-anchor="start" textLength="361" lengthAdjust="spacingAndGlyphs" stroke="#1b5a9b" stroke-width="0.45">Microprocessor Market</text>
<text x="791.7" y="40.2" font-size="25.3" font-weight="bold" fill="#1a5fa9" text-anchor="start" textLength="161" lengthAdjust="spacingAndGlyphs" stroke="#1a5fa9" stroke-width="1.7" stroke-linejoin="miter" letter-spacing="2.2">JADHAVAR</text>
<text x="791" y="59.6" font-size="13" font-weight="normal" fill="#1d62aa" text-anchor="start" textLength="159" lengthAdjust="spacingAndGlyphs" stroke="#1d62aa" stroke-width="0.45">BUSINESS INTELLIGENCE</text>
<text x="730" y="51.8" font-size="32.5" font-weight="bold" fill="#fff" text-anchor="start" textLength="39" lengthAdjust="spacingAndGlyphs" stroke="#fff" stroke-width="0.9">JBI</text>
<text x="769" y="115.5" font-size="22" font-weight="bold" fill="#1b5a9b" text-anchor="start" textLength="186" lengthAdjust="spacingAndGlyphs" stroke="#1b5a9b" stroke-width="0.25">Market Segmentation</text>
<text x="179.5" y="209.5" font-size="22.5" font-weight="bold" fill="#111" text-anchor="start" textLength="169" lengthAdjust="spacingAndGlyphs" >CAGR of 2025-2030</text>
<text x="262" y="268" font-size="39.5" font-weight="bold" fill="#0b0b0b" text-anchor="start" textLength="73" lengthAdjust="spacingAndGlyphs" >5.4%</text>
<text x="148" y="320.8" font-size="16.8" font-weight="bold" fill="#1a1a1a" text-anchor="start" textLength="43" lengthAdjust="spacingAndGlyphs" >116.80</text>
<text x="268" y="309.8" font-size="16.8" font-weight="bold" fill="#1a1a1a" text-anchor="start" textLength="43.5" lengthAdjust="spacingAndGlyphs" >123.12</text>
<text x="394" y="244.4" font-size="16.8" font-weight="bold" fill="#1a1a1a" text-anchor="start" textLength="43.5" lengthAdjust="spacingAndGlyphs" >160.10</text>
<text x="151" y="465.5" font-size="16.7" font-weight="bold" fill="#111" text-anchor="start" textLength="31.5" lengthAdjust="spacingAndGlyphs" >2024</text>
<text x="275.5" y="465.5" font-size="16.7" font-weight="bold" fill="#111" text-anchor="start" textLength="31" lengthAdjust="spacingAndGlyphs" >2025</text>
<text x="399.3" y="465.5" font-size="16.7" font-weight="bold" fill="#111" text-anchor="start" textLength="30.5" lengthAdjust="spacingAndGlyphs" >2030</text>
<text x="176.3" y="498.2" font-size="18.3" font-weight="bold" fill="#111" text-anchor="start" textLength="203" lengthAdjust="spacingAndGlyphs" >Market Size in USD Billion</text>
<text x="514" y="470.1" font-size="15.5" font-weight="normal" fill="#111" text-anchor="start" textLength="22.5" lengthAdjust="spacingAndGlyphs" stroke="#111" stroke-width="0.3">Low</text>
<text x="561.3" y="470.1" font-size="15.5" font-weight="normal" fill="#111" text-anchor="start" textLength="43.5" lengthAdjust="spacingAndGlyphs" stroke="#111" stroke-width="0.3">Medium</text>
<text x="636.5" y="470.1" font-size="15.5" font-weight="normal" fill="#111" text-anchor="start" textLength="25.5" lengthAdjust="spacingAndGlyphs" stroke="#111" stroke-width="0.3">High</text>
<text x="535" y="498.3" font-size="18.5" font-weight="bold" fill="#111" text-anchor="start" textLength="114" lengthAdjust="spacingAndGlyphs" >Market Growth</text>
<text x="135.6" y="533.5" font-size="17.3" font-weight="normal" fill="#fff" text-anchor="start" textLength="248" lengthAdjust="spacingAndGlyphs" stroke="#fff" stroke-width="0.3">www.jadhavarbusinessintelligence.com</text>
<text x="702" y="533.5" font-size="17.3" font-weight="normal" fill="#fff" text-anchor="start" textLength="262" lengthAdjust="spacingAndGlyphs" stroke="#fff" stroke-width="0.3">sales@jadhavarbusinessintelliegnce.com</text>
<text x="478" y="125.9" font-size="12.2" font-weight="normal" fill="#111" text-anchor="start" textLength="66.5" lengthAdjust="spacingAndGlyphs" stroke="#111" stroke-width="0.3">North America</text>
<text x="596.5" y="125.9" font-size="12.2" font-weight="normal" fill="#111" text-anchor="start" textLength="35.5" lengthAdjust="spacingAndGlyphs" stroke="#111" stroke-width="0.3">Europe</text>
<text x="688.7" y="203" font-size="12.2" font-weight="normal" fill="#111" text-anchor="start" textLength="55" lengthAdjust="spacingAndGlyphs" stroke="#111" stroke-width="0.3">Asia Pacific</text>
<text x="452.3" y="277.3" font-size="12.2" font-weight="normal" fill="#111" text-anchor="start" textLength="66.5" lengthAdjust="spacingAndGlyphs" stroke="#111" stroke-width="0.3">South America</text>
<text x="578.7" y="300.3" font-size="12.2" font-weight="normal" fill="#111" text-anchor="start" textLength="69" lengthAdjust="spacingAndGlyphs" stroke="#111" stroke-width="0.3">Middle East &amp;</text>
<text x="598.3" y="318.6" font-size="12.2" font-weight="normal" fill="#111" text-anchor="start" textLength="28.5" lengthAdjust="spacingAndGlyphs" stroke="#111" stroke-width="0.3">Africa</text>
<text x="757.3" y="159.2" font-size="17.5" font-weight="bold" fill="#151515" text-anchor="start" textLength="53" lengthAdjust="spacingAndGlyphs" >By Type</text>
<text x="780.3" y="183.70000000000002" font-size="17.3" font-weight="normal" fill="#151515" text-anchor="start" textLength="111" lengthAdjust="spacingAndGlyphs" stroke="#151515" stroke-width="0.25">General-Purpose</text>
<text x="780.3" y="207.9" font-size="17.3" font-weight="normal" fill="#151515" text-anchor="start" textLength="155.5" lengthAdjust="spacingAndGlyphs" stroke="#151515" stroke-width="0.25">Microprocessors (GPPs)</text>
<text x="780.3" y="232.1" font-size="17.3" font-weight="normal" fill="#151515" text-anchor="start" textLength="184.5" lengthAdjust="spacingAndGlyphs" stroke="#151515" stroke-width="0.25">Embedded Microprocessors</text>
<text x="780.3" y="256.29999999999995" font-size="17.3" font-weight="normal" fill="#151515" text-anchor="start" textLength="173" lengthAdjust="spacingAndGlyphs" stroke="#151515" stroke-width="0.25">/ Microcontrollers (MCUs)</text>
<text x="780.3" y="280.5" font-size="17.3" font-weight="normal" fill="#151515" text-anchor="start" textLength="130" lengthAdjust="spacingAndGlyphs" stroke="#151515" stroke-width="0.25">Application-Specific</text>
<text x="780.3" y="304.7" font-size="17.3" font-weight="normal" fill="#151515" text-anchor="start" textLength="154.5" lengthAdjust="spacingAndGlyphs" stroke="#151515" stroke-width="0.25">Microprocessors (ASPs)</text>
<text x="780.3" y="328.9" font-size="17.3" font-weight="normal" fill="#151515" text-anchor="start" textLength="159.5" lengthAdjust="spacingAndGlyphs" stroke="#151515" stroke-width="0.25">Digital Signal Processors</text>
<text x="780.3" y="353.09999999999997" font-size="17.3" font-weight="normal" fill="#151515" text-anchor="start" textLength="41" lengthAdjust="spacingAndGlyphs" stroke="#151515" stroke-width="0.25">(DSPs)</text>
<circle cx="760.3" cy="178.20000000000002" r="2.15" fill="#151515"/>
<circle cx="760.3" cy="226.6" r="2.15" fill="#151515"/>
<circle cx="760.3" cy="275.0" r="2.15" fill="#151515"/>
<circle cx="760.3" cy="323.4" r="2.15" fill="#151515"/>
<text x="757.3" y="400.9" font-size="17.5" font-weight="bold" fill="#151515" text-anchor="start" textLength="105" lengthAdjust="spacingAndGlyphs" >By Architecture</text>
<text x="780.3" y="425.2" font-size="17.3" font-weight="normal" fill="#151515" text-anchor="start" textLength="29" lengthAdjust="spacingAndGlyphs" stroke="#151515" stroke-width="0.25">RISC</text>
<circle cx="760.3" cy="419.7" r="2.15" fill="#151515"/>
<text x="780.3" y="449.4" font-size="17.3" font-weight="normal" fill="#151515" text-anchor="start" textLength="29" lengthAdjust="spacingAndGlyphs" stroke="#151515" stroke-width="0.25">CISC</text>
<circle cx="760.3" cy="443.9" r="2.15" fill="#151515"/>
<text x="780.3" y="473.59999999999997" font-size="17.3" font-weight="normal" fill="#151515" text-anchor="start" textLength="44" lengthAdjust="spacingAndGlyphs" stroke="#151515" stroke-width="0.25">Hybrid</text>
<circle cx="760.3" cy="468.09999999999997" r="2.15" fill="#151515"/>
<text x="780.3" y="497.79999999999995" font-size="17.3" font-weight="normal" fill="#151515" text-anchor="start" textLength="44.5" lengthAdjust="spacingAndGlyphs" stroke="#151515" stroke-width="0.25">Others</text>
<circle cx="760.3" cy="492.29999999999995" r="2.15" fill="#151515"/>
</svg>
</body></html>
